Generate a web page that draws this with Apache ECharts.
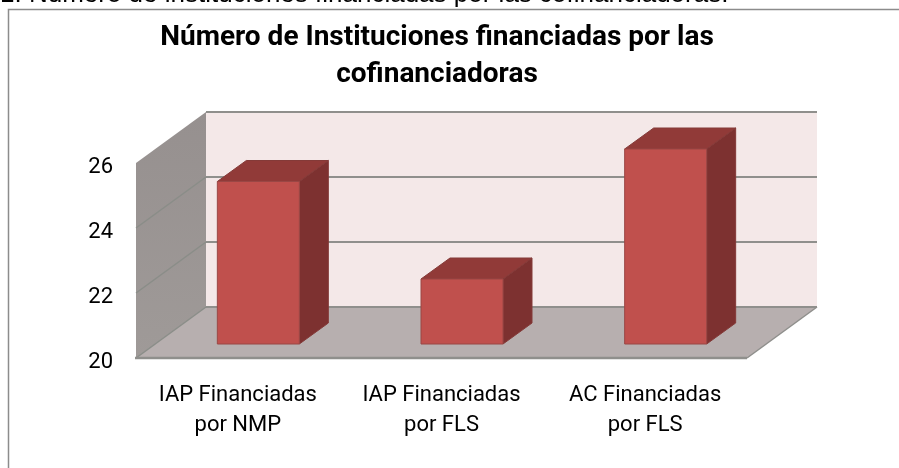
<!DOCTYPE html>
<html>
<head>
<meta charset="utf-8">
<style>
  html, body { margin: 0; padding: 0; background: #fff; }
  #chart1 { width: 899px; height: 468px; }
</style>
<script src="https://cdn.jsdelivr.net/npm/echarts@6/dist/echarts.min.js"></script>
</head>
<body>
<div id="chart1"></div>
<script>
const categories = ['IAP Financiadas\npor NMP', 'IAP Financiadas\npor FLS', 'AC Financiadas\npor FLS'];
const values = [25, 22, 26];
const yTicks = [20, 22, 24, 26];

const FONT = 'Roboto, "Liberation Sans", Arial, sans-serif';

// wall depth and bar depth, the 3d look is only an offset
const wallDx = 70, wallDy = -51;
const barDx = 29, barDy = -21;
const barShiftX = 20.5, barShiftY = -14;
const barWidth = 82;

const poly = (points, fill, stroke, lineWidth) => ({
    type: 'polygon',
    shape: { points: points },
    style: { fill: fill, stroke: stroke || 'none', lineWidth: lineWidth || 0 }
});
const line = (x1, y1, x2, y2, stroke, lineWidth) => ({
    type: 'line',
    shape: { x1: x1, y1: y1, x2: x2, y2: y2 },
    style: { stroke: stroke, lineWidth: lineWidth }
});

const renderWalls = (params, api) => {
    const g = params.coordSys;
    const left = g.x, right = g.x + g.width;
    const y0 = api.coord([0, yTicks[0]])[1];
    const yTop = api.coord([0, yTicks[yTicks.length - 1]])[1];
    const children = [
        // back wall
        poly([[left + wallDx, yTop + wallDy], [right + wallDx, yTop + wallDy], [right + wallDx, y0 + wallDy], [left + wallDx, y0 + wallDy]], '#f4e8e8'),
        // left wall
        poly([[left, y0], [left + wallDx, y0 + wallDy], [left + wallDx, yTop + wallDy], [left, yTop]], {
            type: 'linear', x: 0, y: 0, x2: 0, y2: 1,
            colorStops: [{ offset: 0, color: '#96908f' }, { offset: 1, color: '#9f9a98' }]
        }),
        // floor
        poly([[left, y0], [right, y0], [right + wallDx, y0 + wallDy], [left + wallDx, y0 + wallDy]], '#b7afaf')
    ];
    yTicks.forEach((t) => {
        const y = api.coord([0, t])[1];
        children.push(line(left + wallDx, y + wallDy, right + wallDx, y + wallDy, '#8f8f8c', 2));
        if (t !== yTicks[yTicks.length - 1]) {
            children.push(line(left, y, left + wallDx, y + wallDy, '#8a8d88', 1.5));
        }
    });
    children.push(line(right, y0, right + wallDx, y0 + wallDy, '#8f8f8c', 1.5));
    children.push(line(left - 1, y0, right, y0, '#8f8f8c', 2.5));
    return { type: 'group', children: children };
};

const renderBar = (params, api) => {
    const top = api.coord([api.value(0), api.value(1)]);
    const base = api.coord([api.value(0), yTicks[0]]);
    const x1 = top[0] + barShiftX - barWidth / 2;
    const x2 = x1 + barWidth;
    const yT = top[1] + barShiftY;
    const yB = base[1] + barShiftY;
    return {
        type: 'group',
        children: [
            poly([[x2, yT], [x2 + barDx, yT + barDy], [x2 + barDx, yB + barDy], [x2, yB]], '#7d3130', '#843a38', 1),
            poly([[x1, yT], [x1 + barDx, yT + barDy], [x2 + barDx, yT + barDy], [x2, yT]], '#913a38', '#843a38', 1),
            poly([[x1, yT], [x2, yT], [x2, yB], [x1, yB]], '#c0504d', '#9a4745', 1)
        ]
    };
};

const getOptionChart1 = () => {
    return {
        animation: false,
        backgroundColor: '#fff',
        title: {
            text: 'Número de Instituciones financiadas por las\ncofinanciadoras',
            left: 432,
            top: 14,
            textAlign: 'center',
            textStyle: { fontFamily: FONT, fontSize: 28, fontWeight: 'bold', color: '#000', lineHeight: 37 }
        },
        graphic: [
            {
                type: 'text', left: 0, top: -18, silent: true,
                style: { text: '1. Número de instituciones financiadas por las cofinanciadoras.', fontFamily: '"Liberation Sans", Arial, sans-serif', fontSize: 26, fill: '#000' }
            },
            {
                type: 'polyline', silent: true,
                shape: { points: [[8.5, 468], [8.5, 9.5], [899, 9.5]] },
                style: { fill: 'none', stroke: '#8c8c8c', lineWidth: 1.5 }
            }
        ],
        grid: { left: 136, right: 152, top: 163, bottom: 110 },
        xAxis: {
            type: 'category',
            data: categories,
            axisLine: { show: false },
            axisTick: { show: false },
            axisLabel: { interval: 0, fontFamily: FONT, fontSize: 22, color: '#000', lineHeight: 30, margin: 22 }
        },
        yAxis: {
            type: 'value',
            min: 20,
            max: 26,
            interval: 2,
            axisLine: { show: false },
            axisTick: { show: false },
            splitLine: { show: false },
            // top align with a short line height pushes the digits a little under the tick
            axisLabel: { fontFamily: FONT, fontSize: 22, color: '#000', margin: 23, verticalAlign: 'top', lineHeight: 8 }
        },
        series: [
            { type: 'custom', renderItem: renderWalls, data: [[0, 20]], silent: true, z: 1, clip: false },
            { type: 'custom', renderItem: renderBar, data: values.map((v, i) => [i, v]), z: 2, clip: false }
        ]
    };
};

const initCharts = () => {
    const chart1 = echarts.init(document.getElementById('chart1'));
    chart1.setOption(getOptionChart1());
    window.addEventListener('resize', () => chart1.resize());
};
document.addEventListener('DOMContentLoaded', initCharts);
</script>
</body>
</html>
